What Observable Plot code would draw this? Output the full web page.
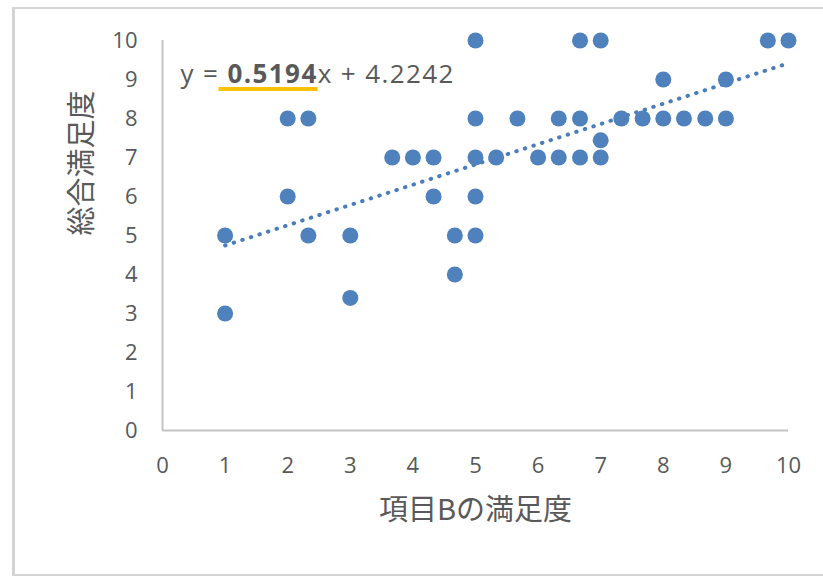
<!DOCTYPE html>
<html>
<head>
<meta charset="utf-8">
<script src="https://cdn.jsdelivr.net/npm/d3@7"></script>
<script src="https://cdn.jsdelivr.net/npm/@observablehq/plot@0.6"></script>
<style>
  html, body { margin: 0; padding: 0; background: #fff; }
  #wrap { position: relative; width: 823px; height: 576px; overflow: hidden; }
  #border { position: absolute; left: 12px; top: 7px; width: 900px; height: 565px;
            border-left: 3px solid #d4d4d4; border-top: 2px solid #d4d4d4; border-bottom: 2px solid #d4d4d4; }
  #chart { position: absolute; left: 0; top: 0; }
</style>
</head>
<body>
<div id="wrap"><div id="border"></div><div id="chart"></div></div>
<script>
// 項目Bの満足度 (x) と 総合満足度 (y)
const itemB = [1, 1, 2, 2, 2.33, 2.33, 3, 3, 3.67, 4, 4.33, 4.33, 4.67, 4.67,
  5, 5, 5, 5, 5, 5.33, 5.67, 6, 6.33, 6.33, 6.67, 6.67, 6.67, 7, 7, 7,
  7.33, 7.67, 8, 8, 8.33, 8.67, 9, 9, 9.67, 10];
const overall = [5, 3, 8, 6, 8, 5, 5, 3.4, 7, 7, 7, 6, 5, 4,
  10, 8, 7, 6, 5, 7, 8, 7, 8, 7, 10, 8, 7, 10, 7.44, 7,
  8, 8, 9, 8, 8, 8, 9, 8, 10, 10];
const xTicks = [0, 1, 2, 3, 4, 5, 6, 7, 8, 9, 10];
const yTicks = [0, 1, 2, 3, 4, 5, 6, 7, 8, 9, 10];
const slope = 0.5194;
const intercept = 4.2242;
const eqPrefix = "y = ";
const eqSlope = "0.5194";
const eqSuffix = "x + 4.2242";
const xTitle = "項目Bの満足度";
const yTitle = "総合満足度";

const points = itemB.map((x, i) => ({x, y: overall[i]}));
const trend = d3.extent(itemB).map(x => ({x, y: slope * x + intercept}));
const eqText = eqPrefix + eqSlope + eqSuffix;

const grey = "#595959";
const blue = "#4f81bd";

const chart = Plot.plot({
  width: 823,
  height: 576,
  marginLeft: 162,
  marginRight: 35,
  marginTop: 40,
  marginBottom: 146,
  style: {fontFamily: "'Open Sans', 'Noto Sans CJK JP', sans-serif", color: grey, background: "transparent"},
  x: {domain: [0, 10]},
  y: {domain: [0, 10]},
  marks: [
    Plot.axisX({ticks: xTicks, tickSize: 0, tickPadding: 27, fontSize: 22, label: null, tickFormat: d => String(d)}),
    Plot.axisY({ticks: yTicks, tickSize: 0, tickPadding: 25, fontSize: 22, label: null, tickFormat: d => String(d)}),
    Plot.ruleY([0], {stroke: "#c4c4c4", strokeWidth: 2}),
    Plot.ruleX([0], {stroke: "#c4c4c4", strokeWidth: 2}),
    Plot.line(trend, {x: "x", y: "y", stroke: "#4a7ebb", strokeWidth: 4, strokeDasharray: "0.5 8.5", strokeLinecap: "round"}),
    Plot.dot(points, {x: "x", y: "y", r: 8, fill: blue, stroke: "none"}),
    Plot.text([eqText], {frameAnchor: "top-left", dx: 18, dy: 24, textAnchor: "start", fontSize: 26, fill: grey}),
    Plot.text([yTitle], {frameAnchor: "left", dx: -80, rotate: -90, fontSize: 29, fill: grey, fontFamily: "'Noto Sans CJK JP', sans-serif"}),
    Plot.text([xTitle], {frameAnchor: "bottom", dy: 89, fontSize: 29, fill: grey, fontFamily: "'Noto Sans CJK JP', sans-serif"})
  ]
});
document.getElementById("chart").append(chart);

// Rich-format the equation: bold slope with underline
const eqNode = Array.from(chart.querySelectorAll("text")).find(t => t.textContent === eqText);
if (eqNode) {
  const sel = d3.select(eqNode);
  sel.text(null).attr("letter-spacing", "1.4px");
  sel.append("tspan").text(eqPrefix);
  sel.append("tspan").attr("font-weight", "bold").text(eqSlope);
  sel.append("tspan").text(eqSuffix);
  const i0 = eqPrefix.length, i1 = eqPrefix.length + eqSlope.length - 1;
  const p0 = eqNode.getStartPositionOfChar(i0);
  const p1 = eqNode.getEndPositionOfChar(i1);
  const line = document.createElementNS("http://www.w3.org/2000/svg", "line");
  line.setAttribute("x1", p0.x - 9);
  line.setAttribute("x2", p1.x);
  line.setAttribute("y1", p0.y + 6);
  line.setAttribute("y2", p0.y + 6);
  line.setAttribute("stroke", "#ffc000");
  line.setAttribute("stroke-width", 4);
  if (eqNode.getAttribute("transform")) line.setAttribute("transform", eqNode.getAttribute("transform"));
  eqNode.parentNode.appendChild(line);
}
</script>
</body>
</html>
